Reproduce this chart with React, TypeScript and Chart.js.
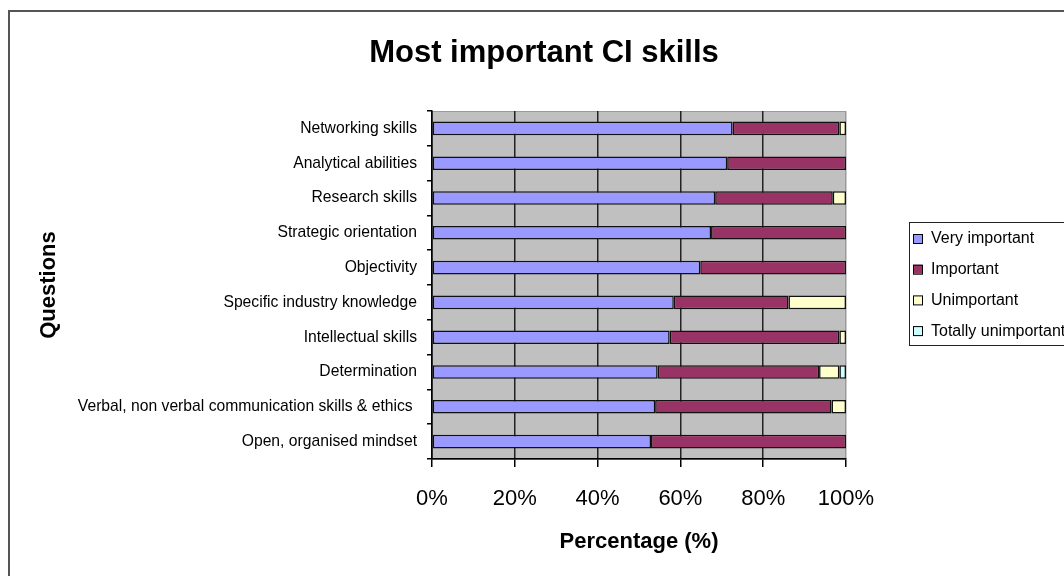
import React, { useEffect, useRef } from "react";
import { Chart, registerables } from "chart.js";

Chart.register(...registerables);

const categories = [
  "Networking skills",
  "Analytical abilities",
  "Research skills",
  "Strategic orientation",
  "Objectivity",
  "Specific industry knowledge",
  "Intellectual skills",
  "Determination",
  "Verbal, non verbal communication skills & ethics ",
  "Open, organised mindset",
];

const veryImportant = [72.6, 71.3, 68.4, 67.4, 64.8, 58.4, 57.4, 54.5, 53.9, 52.9];
const important = [25.8, 28.7, 28.4, 32.6, 35.2, 27.7, 41.0, 39.0, 42.6, 47.1];
const unimportant = [1.6, 0, 3.2, 0, 0, 13.9, 1.6, 4.9, 3.5, 0];
const totallyUnimportant = [0, 0, 0, 0, 0, 0, 0, 1.6, 0, 0];

const seriesNames = ["Very important", "Important", "Unimportant", "Totally unimportant"];
const seriesColors = ["#9999FF", "#993366", "#FFFFCC", "#CCFFFF"];
const xTicks = [0, 20, 40, 60, 80, 100];

const chartTitle = "Most important CI skills";
const xTitle = "Percentage (%)";
const yTitle = "Questions";

const FONT = "'Liberation Sans', Arial, sans-serif";

export default function App() {
  const ref = useRef<HTMLCanvasElement | null>(null);

  useEffect(() => {
    if (!ref.current) return;
    const seriesData = [veryImportant, important, unimportant, totallyUnimportant];

    const framePlugin = {
      id: "frame",
      beforeDraw(chart: any) {
        const { ctx, chartArea: a } = chart;
        ctx.save();
        ctx.fillStyle = "#ffffff";
        ctx.fillRect(0, 0, chart.width, chart.height);
        ctx.fillStyle = "#C0C0C0";
        ctx.fillRect(a.left, a.top, a.right - a.left, a.bottom - a.top);
        ctx.strokeStyle = "#9a9a9a";
        ctx.lineWidth = 1;
        ctx.strokeRect(a.left + 0.5, a.top + 0.5, a.right - a.left - 1, a.bottom - a.top);
        ctx.restore();
      },
      afterDraw(chart: any) {
        const { ctx } = chart;
        ctx.save();
        // outer frame
        ctx.strokeStyle = "#555555";
        ctx.lineWidth = 2;
        ctx.beginPath();
        ctx.moveTo(9, chart.height + 5);
        ctx.lineTo(9, 11);
        ctx.lineTo(chart.width + 5, 11);
        ctx.stroke();
        // title
        ctx.fillStyle = "#000";
        ctx.font = `bold 31px ${FONT}`;
        ctx.textAlign = "center";
        ctx.textBaseline = "alphabetic";
        ctx.fillText(chartTitle, 544, 62);
        // legend
        const lx = 909, ly = 222;
        ctx.strokeStyle = "#222";
        ctx.lineWidth = 1;
        ctx.strokeRect(lx + 0.5, ly + 0.5, 200, 123);
        ctx.font = `16px ${FONT}`;
        ctx.textAlign = "left";
        ctx.textBaseline = "middle";
        chart.data.datasets.forEach((ds: any, i: number) => {
          const cy = 238 + i * 30.7;
          ctx.fillStyle = ds.backgroundColor;
          ctx.fillRect(913, cy - 4, 9, 9);
          ctx.strokeStyle = "#000";
          ctx.strokeRect(913.5, cy - 3.5, 9, 9);
          ctx.fillStyle = "#000";
          ctx.fillText(ds.label, 931, cy + 1);
        });
        ctx.restore();
      },
    };

    const chart = new Chart(ref.current, {
      type: "bar",
      data: {
        labels: categories,
        datasets: seriesNames.map((name, i) => ({
          label: name,
          data: seriesData[i].map((v) => (v ? v : null)),
          backgroundColor: seriesColors[i],
          borderColor: "#111111",
          borderWidth: 1.5,
          borderSkipped: false,
          barPercentage: 0.39,
          categoryPercentage: 1,
        })),
      },
      options: {
        indexAxis: "y",
        animation: false,
        responsive: false,
        layout: { padding: { top: 111, right: 218, bottom: 0, left: 0 } },
        plugins: {
          legend: { display: false },
          title: { display: false },
          tooltip: { enabled: false },
        },
        scales: {
          x: {
            stacked: true,
            min: 0,
            max: 100,
            afterBuildTicks(scale: any) {
              scale.ticks = xTicks.map((v) => ({ value: v }));
            },
            afterFit(scale: any) {
              scale.height = 117;
            },
            ticks: {
              color: "#000",
              font: { family: FONT, size: 22 },
              padding: 19,
              callback: (v: any) => `${v}%`,
            },
            grid: {
              color: (c: any) => (c.tick && c.tick.value === 100 ? "#9a9a9a" : "#222"),
              tickColor: "#000",
              tickLength: 8,
              lineWidth: 1.5,
            },
            border: { color: "#000", width: 1.5 },
            title: {
              display: true,
              text: xTitle,
              color: "#000",
              font: { family: FONT, size: 22, weight: "bold" },
              padding: { top: 0, bottom: 21 },
            },
          },
          y: {
            stacked: true,
            afterFit(scale: any) {
              scale.width = 432;
            },
            ticks: {
              color: "#000",
              font: { family: FONT, size: 15.7 },
              padding: 10,
            },
            grid: {
              drawOnChartArea: false,
              tickLength: 5,
              tickColor: "#000",
              lineWidth: 1.5,
            },
            border: { color: "#000", width: 1.5 },
            title: {
              display: true,
              text: yTitle,
              color: "#000",
              font: { family: FONT, size: 22, weight: "bold" },
              padding: { top: 36, bottom: 0 },
            },
          },
        },
      },
      plugins: [framePlugin],
    } as any);

    return () => chart.destroy();
  }, []);

  return (
    <div style={{ position: "fixed", left: 0, top: 0, width: 1064, height: 576, background: "#fff" }}>
      <canvas ref={ref} width={1064} height={576} style={{ display: "block" }} />
    </div>
  );
}
